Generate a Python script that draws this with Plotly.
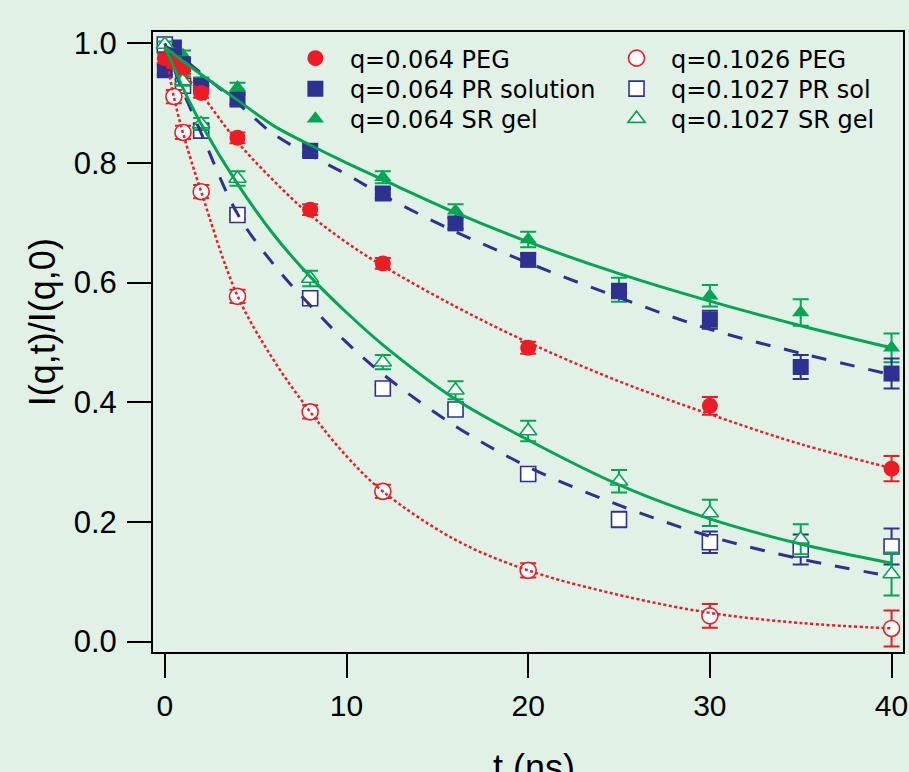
import plotly.graph_objects as go

# ---- measured decay data: I(q,t)/I(q,0) vs delay time t (ns) ----
t_peg_064 = [0, 0.5, 1, 2, 4, 8, 12, 20, 30, 40]
v_peg_064 = [0.975, 0.968, 0.957, 0.917, 0.842, 0.722, 0.632, 0.491, 0.394, 0.289]
e_peg_064 = [0.008, 0.008, 0.008, 0.008, 0.009, 0.009, 0.009, 0.010, 0.015, 0.021]

t_pr_064 = [0, 0.5, 1, 2, 4, 8, 12, 16, 20, 25, 30, 35, 40]
v_pr_064 = [0.955, 0.993, 0.965, 0.929, 0.906, 0.820, 0.749, 0.699, 0.638, 0.586, 0.538, 0.459, 0.448]
e_pr_064 = [0.008, 0.008, 0.008, 0.008, 0.008, 0.008, 0.008, 0.009, 0.010, 0.012, 0.015, 0.020, 0.025]

t_sr_064 = [1, 2, 4, 8, 12, 16, 20, 25, 30, 35, 40]
v_sr_064 = [0.980, 0.935, 0.926, 0.822, 0.776, 0.720, 0.672, 0.588, 0.578, 0.550, 0.491]
e_sr_064 = [0.008, 0.008, 0.008, 0.010, 0.010, 0.011, 0.013, 0.020, 0.018, 0.022, 0.024]

t_peg_1026 = [0.5, 1, 2, 4, 8, 12, 20, 30, 40]
v_peg_1026 = [0.911, 0.851, 0.752, 0.577, 0.384, 0.251, 0.119, 0.043, 0.022]
e_peg_1026 = [0.011, 0.011, 0.011, 0.011, 0.011, 0.011, 0.012, 0.020, 0.030]

t_pr_1027 = [0, 1, 2, 4, 8, 12, 16, 20, 25, 30, 35, 40]
v_pr_1027 = [0.998, 0.929, 0.854, 0.713, 0.574, 0.423, 0.388, 0.280, 0.204, 0.166, 0.154, 0.159]
e_pr_1027 = [0.005, 0.006, 0.006, 0.006, 0.006, 0.006, 0.008, 0.008, 0.013, 0.018, 0.025, 0.030]

t_sr_1027 = [0, 1, 2, 4, 8, 12, 16, 20, 25, 30, 35, 40]
v_sr_1027 = [0.998, 0.937, 0.865, 0.774, 0.607, 0.467, 0.420, 0.352, 0.268, 0.215, 0.171, 0.113]
e_sr_1027 = [0.005, 0.008, 0.010, 0.012, 0.013, 0.012, 0.015, 0.017, 0.019, 0.022, 0.025, 0.036]

# ---- fitted decay curves, sampled on a common time grid ----
fit_t = [0, 0.5, 1, 2, 4, 6, 8, 10, 12, 16, 20, 25, 30, 35, 40]
fit_peg_064 = [0.985, 0.967, 0.950, 0.915, 0.835, 0.770, 0.713, 0.667, 0.628, 0.560, 0.500, 0.435, 0.380, 0.330, 0.290]
fit_pr_064 = [0.995, 0.988, 0.975, 0.950, 0.900, 0.848, 0.813, 0.781, 0.746, 0.685, 0.633, 0.575, 0.522, 0.482, 0.446]
fit_sr_064 = [0.993, 0.982, 0.970, 0.948, 0.905, 0.862, 0.830, 0.800, 0.772, 0.717, 0.668, 0.615, 0.569, 0.528, 0.491]
fit_peg_1026 = [0.990, 0.910, 0.850, 0.752, 0.578, 0.470, 0.384, 0.310, 0.251, 0.170, 0.119, 0.078, 0.048, 0.031, 0.022]
fit_pr_1027 = [1.000, 0.958, 0.920, 0.850, 0.715, 0.630, 0.562, 0.500, 0.447, 0.360, 0.292, 0.228, 0.176, 0.138, 0.109]
fit_sr_1027 = [0.995, 0.960, 0.925, 0.865, 0.765, 0.680, 0.610, 0.550, 0.496, 0.405, 0.337, 0.262, 0.205, 0.163, 0.131]

x_ticks = [0, 10, 20, 30, 40]
y_ticks = [0.0, 0.2, 0.4, 0.6, 0.8, 1.0]

RED = "#ED1C24"
BLUE = "#2E3192"
GREEN = "#00A651"
BG = "#E2F1E6"
FONT = "Liberation Sans, Arial, Helvetica, sans-serif"
LEGEND_FONT = "DejaVu Sans, Liberation Sans, Arial, sans-serif"

fig = go.Figure()


def add_points(t, v, e, name, color, symbol, size, filled, legend):
    marker = dict(symbol=symbol, size=size)
    if filled:
        marker.update(color=color, line=dict(width=0))
    else:
        marker.update(color="white", line=dict(color=color, width=1.6))
    fig.add_trace(go.Scatter(
        x=t, y=v, mode="markers", name=name, marker=marker,
        error_y=dict(type="data", array=e, color=color, thickness=2, width=8),
        legend=legend,
    ))


# marker layers: filled sets first, open sets above them
add_points(t_sr_064, v_sr_064, e_sr_064, "q=0.064 SR gel", GREEN, "triangle-up", 15, True, "legend3")
add_points(t_pr_064, v_pr_064, e_pr_064, "q=0.064 PR solution", BLUE, "square", 16, True, "legend2")
add_points(t_peg_064, v_peg_064, e_peg_064, "q=0.064 PEG", RED, "circle", 16, True, "legend")
add_points(t_pr_1027, v_pr_1027, e_pr_1027, "q=0.1027 PR sol", BLUE, "square", 15, False, "legend5")
add_points(t_sr_1027, v_sr_1027, e_sr_1027, "q=0.1027 SR gel", GREEN, "triangle-up", 15, False, "legend6")
add_points(t_peg_1026, v_peg_1026, e_peg_1026, "q=0.1026 PEG", RED, "circle", 16, False, "legend4")


def add_fit(v, color, dash, width):
    fig.add_trace(go.Scatter(
        x=fit_t, y=v, mode="lines", showlegend=False, hoverinfo="skip",
        line=dict(color=color, dash=dash, width=width, shape="spline", smoothing=1.0),
    ))


# fit curves are drawn over the markers
add_fit(fit_peg_064, RED, "3px,2.5px", 2.5)
add_fit(fit_peg_1026, RED, "3px,2.5px", 2.5)
add_fit(fit_pr_064, BLUE, "15px,14px", 3)
add_fit(fit_pr_1027, BLUE, "15px,14px", 3)
add_fit(fit_sr_064, GREEN, "solid", 3)
add_fit(fit_sr_1027, GREEN, "solid", 3)


# one legend box per key row so the two key columns sit on a tight grid
def key_box(x, y):
    return dict(
        x=x, y=y, xanchor="left", yanchor="top",
        bgcolor="rgba(0,0,0,0)", borderwidth=0,
        font=dict(family=LEGEND_FONT, size=24, color="black"),
        itemwidth=59, tracegroupgap=0,
    )


col_x = [0.1705, 0.5987]
row_y = [0.9935, 0.9443, 0.8959]

fig.update_layout(
    width=909, height=772,
    margin=dict(l=153, r=6, t=32, b=120, pad=0),
    paper_bgcolor=BG, plot_bgcolor=BG,
    font=dict(family=FONT, color="black"),
    showlegend=True,
    legend=key_box(col_x[0], row_y[0]),
    legend2=key_box(col_x[0], row_y[1]),
    legend3=key_box(col_x[0], row_y[2]),
    legend4=key_box(col_x[1], row_y[0]),
    legend5=key_box(col_x[1], row_y[1]),
    legend6=key_box(col_x[1], row_y[2]),
    xaxis=dict(
        range=[-0.65, 40.63], tickvals=x_ticks, ticktext=[str(v) for v in x_ticks],
        automargin=False,
        showgrid=False, zeroline=False,
        showline=True, linecolor="black", linewidth=2, mirror=True,
        ticks="outside", ticklen=24, tickwidth=2, tickcolor="black",
        tickfont=dict(family=FONT, size=30, color="black"),
        ticklabelstandoff=2,
    ),
    yaxis=dict(
        range=[-0.0174, 1.0189], tickvals=y_ticks, ticktext=[f"{v:.1f}" for v in y_ticks],
        automargin=False,
        showgrid=False, zeroline=False,
        showline=True, linecolor="black", linewidth=2, mirror=True,
        ticks="outside", ticklen=24, tickwidth=2, tickcolor="black",
        tickfont=dict(family=FONT, size=31, color="black"),
        ticklabelstandoff=4,
    ),
    annotations=[
        dict(text="I(q,t)/I(q,0)", textangle=-90, xref="paper", yref="paper",
             x=-0.148, y=0.532, xanchor="center", yanchor="middle", showarrow=False,
             font=dict(family=FONT, size=36, color="black")),
        dict(text="t (ns)", xref="paper", yref="paper",
             x=0.5085, y=-0.150, xanchor="center", yanchor="top", showarrow=False,
             font=dict(family=FONT, size=36, color="black")),
    ],
)

fig.write_html("out.html")
